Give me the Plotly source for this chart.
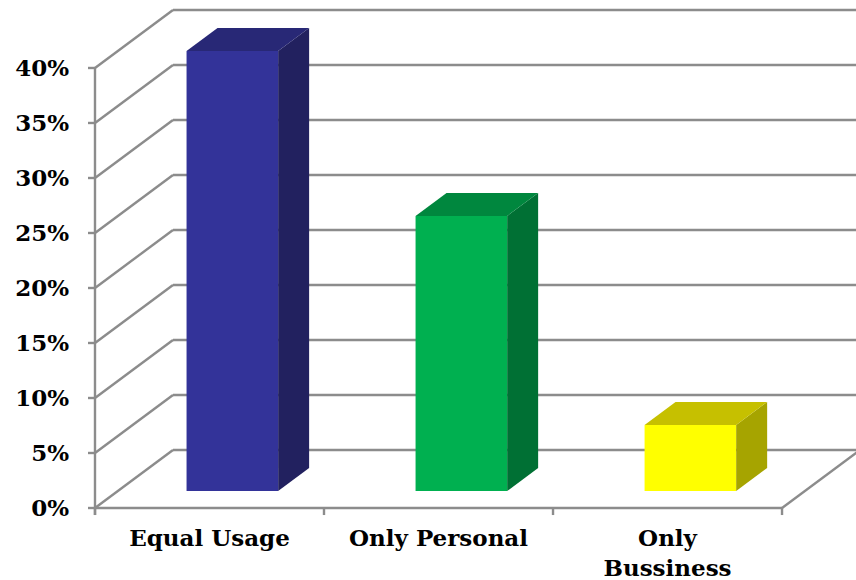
import plotly.graph_objects as go

# ---- data -------------------------------------------------------------
categories = ["Equal Usage", "Only Personal", "Only Bussiness"]
category_labels = ["Equal Usage", "Only Personal", "Only<br>Bussiness"]
shares = [40, 25, 6]                      # percent of respondents
y_ticks = [0, 5, 10, 15, 20, 25, 30, 35, 40]
y_tick_labels = [f"{v}%" for v in y_ticks]

front_colors = ["#333399", "#00B050", "#FFFF00"]
top_colors = ["#282876", "#00873E", "#C6C000"]
side_colors = ["#22215F", "#007034", "#A6A400"]

# ---- pseudo-3D projection --------------------------------------------
DX = 78 / 229          # horizontal shift of full depth (x units)
DY = 58 / 11           # vertical shift of full depth (percent units)
F0, F1 = 0.293, 0.69   # bar front / back position inside the depth
BAR_W = 0.40
X0, X1 = -0.5, 2.5     # floor front edge
GRID = "#8c8c8c"
LW = 2.4

fig = go.Figure()

shapes = []

def seg(x0, y0, x1, y1):
    shapes.append(dict(type="line", xref="x", yref="y", x0=x0, y0=y0,
                       x1=x1, y1=y1, layer="below",
                       line=dict(color=GRID, width=LW)))

# left wall diagonals + back wall gridlines
for v in y_ticks:
    seg(X0, v, X0 + DX, v + DY)
    seg(X0 + DX, v + DY, 3.2, v + DY)
    seg(X0 - 7 / 229, v, X0, v)          # value-axis tick marks
# front value axis, floor edges, category tick marks
seg(X0, -0.64, X0, y_ticks[-1])
seg(X0, 0, X1, 0)
seg(X1, 0, X1 + DX, DY)
for xb in [X0 + k for k in range(len(categories) + 1)]:
    seg(xb, 0, xb, -0.64)

# front faces of the bars
centers = [i + F0 * DX for i in range(len(categories))]
fig.add_trace(go.Bar(
    x=centers, y=shares, base=[F0 * DY] * len(shares), width=BAR_W,
    marker=dict(color=front_colors, line=dict(width=0)),
    hovertext=categories, hoverinfo="text+y", showlegend=False,
))

# side and top faces
ddx, ddy = (F1 - F0) * DX, (F1 - F0) * DY
for c, v, tc, sc in zip(centers, shares, top_colors, side_colors):
    xl, xr = c - BAR_W / 2, c + BAR_W / 2
    yb, yt = F0 * DY, F0 * DY + v
    fig.add_trace(go.Scatter(
        x=[xr, xr + ddx, xr + ddx, xr, xr], y=[yb, yb + ddy, yt + ddy, yt, yb],
        fill="toself", fillcolor=sc, mode="lines", line=dict(width=0, color=sc),
        hoverinfo="skip", showlegend=False))
    fig.add_trace(go.Scatter(
        x=[xl, xr, xr + ddx, xl + ddx, xl], y=[yt, yt, yt + ddy, yt + ddy, yt],
        fill="toself", fillcolor=tc, mode="lines", line=dict(width=0, color=tc),
        hoverinfo="skip", showlegend=False))

x_font = dict(family="DejaVu Serif", size=23, color="#000000", weight="bold")
y_font = dict(family="DejaVu Serif", size=23, color="#000000", weight="bold")

fig.update_layout(
    width=856, height=580,
    margin=dict(l=84, r=0, t=0, b=58),
    paper_bgcolor="white", plot_bgcolor="white",
    shapes=shapes, showlegend=False,
    xaxis=dict(range=[-0.548, 2.823], tickmode="array",
               tickvals=list(range(len(categories))), ticktext=category_labels,
               showgrid=False, zeroline=False, showline=False, ticks="",
               tickfont=x_font, ticklabelstandoff=0, automargin=False,
               fixedrange=True),
    yaxis=dict(range=[-1.273, 46.18], tickmode="array", tickvals=y_ticks,
               ticktext=y_tick_labels, showgrid=False, zeroline=False,
               showline=False, ticks="", tickfont=y_font,
               ticklabelstandoff=14, automargin=False, fixedrange=True),
)

fig.write_html("out.html")
